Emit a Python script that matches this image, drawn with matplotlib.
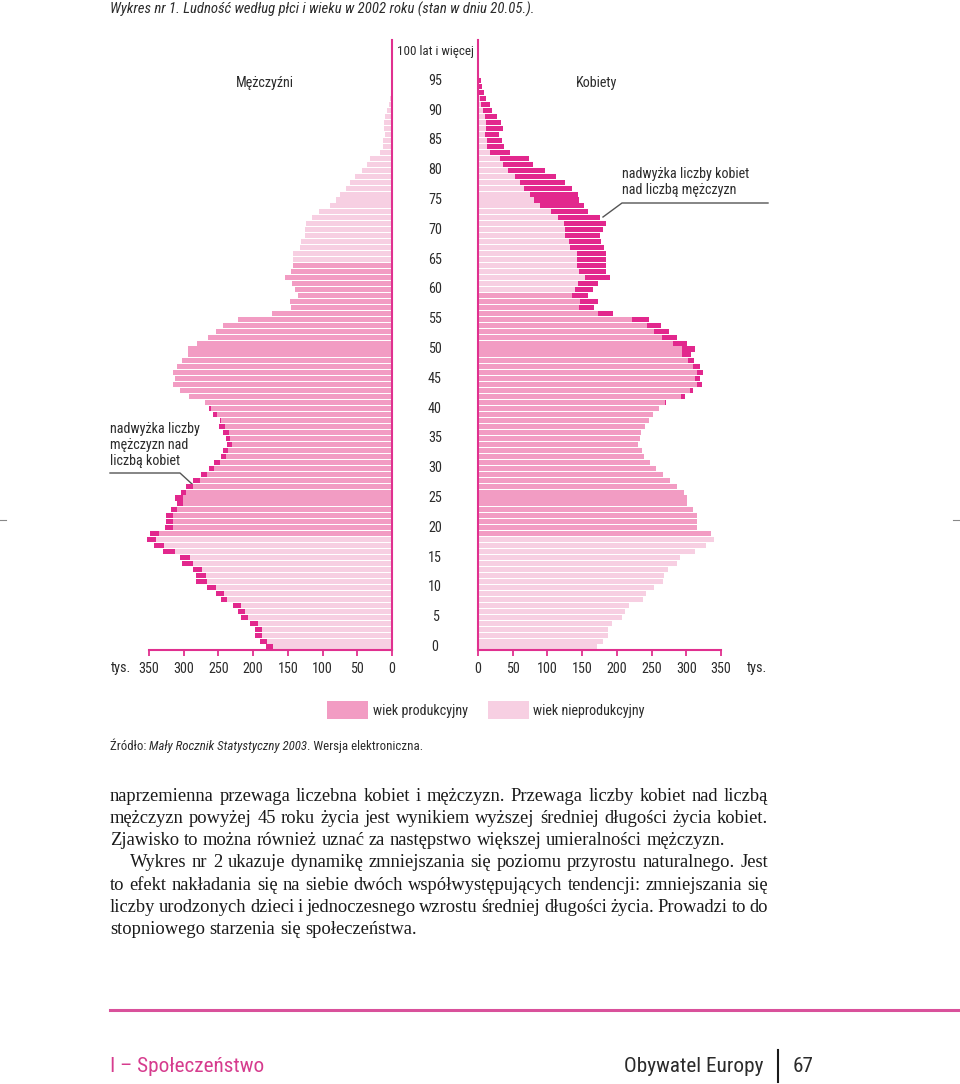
import matplotlib
matplotlib.use("Agg")
import matplotlib.pyplot as plt
from matplotlib import font_manager as fm
from matplotlib import transforms

# population by single year of age (thousands), 2002
ages = list(range(96))
men = [181, 190, 197, 197, 204, 217, 222, 229, 246, 253,
       267, 282, 282, 287, 302, 305, 330, 343, 353, 348,
       327, 325, 326, 319, 310, 312, 304, 297, 287, 275,
       264, 256, 247, 244, 237, 239, 243, 249, 248, 258,
       264, 270, 293, 306, 316, 313, 316, 310, 302, 294,
       294, 281, 265, 254, 243, 222, 173, 145, 147, 135,
       140, 144, 154, 146, 143, 143, 142, 133, 131, 126,
       126, 124, 115, 105, 90, 80, 75, 66, 61, 54,
       43, 36, 32, 17, 13, 13, 10, 12, 12, 10,
       7, 5, 3, 2, 1.5, 1]
women = [172, 180, 187, 187, 193, 207, 212, 218, 237, 242,
         254, 267, 268, 274, 286, 291, 313, 329, 340, 335,
         316, 315, 316, 309, 301, 301, 296, 287, 276, 266,
         257, 248, 239, 236, 230, 233, 235, 241, 246, 252,
         261, 271, 298, 309, 322, 320, 324, 320, 311, 307,
         313, 301, 287, 275, 264, 247, 194, 167, 173, 158,
         166, 173, 190, 184, 184, 185, 185, 182, 177, 176,
         180, 184, 176, 159, 153, 146, 144, 135, 126, 113,
         96, 79, 74, 46, 38, 35, 30, 36, 33, 27,
         20, 17, 11, 8, 6, 4]
work_start = 19
work_end_men = 64
work_end_women = 59
age_ticks = list(range(0, 100, 5))
x_ticks = list(range(0, 351, 50))

MID = "#F29CC3"
LIGHT = "#F7CFE2"
DARK = "#E2288D"
MAG = "#E0308F"
TXT = "#2b2b2b"


def pick_narrow():
    names = {f.name for f in fm.fontManager.ttflist}
    for n in ["Liberation Sans Narrow", "Roboto Condensed", "Noto Sans Condensed",
              "Open Sans Condensed", "DejaVu Sans Condensed"]:
        if n in names:
            return n, "normal"
    for fam in ["Noto Sans", "DejaVu Sans", "Open Sans", "Roboto"]:
        for f in fm.fontManager.ttflist:
            if f.name == fam and f.style == "normal" and str(f.stretch) in (
                    "condensed", "semi-condensed", "extra-condensed"):
                return fam, f.stretch
    return "Roboto" if "Roboto" in names else "DejaVu Sans", "normal"


NARROW, STRETCH = pick_narrow()
SERIF = "Liberation Serif"
plt.rcParams["font.family"] = NARROW
plt.rcParams["font.stretch"] = STRETCH

W, H = 960, 1084
fig = plt.figure(figsize=(W / 100, H / 100), dpi=100)

page = fig.add_axes([0, 0, 1, 1])
page.set_xlim(0, W)
page.set_ylim(H, 0)
page.axis("off")
renderer = fig.canvas.get_renderer()


def width_of(s, **kw):
    t = page.text(0, 0, s, **kw)
    w = t.get_window_extent(renderer=renderer).width
    t.remove()
    return w


def fit(s, target, **kw):
    return 10 * target / width_of(s, fontsize=10, **kw)


# font sizes matched to the widths of the printed labels
LBL = 1.06 * (fit("wiek nieprodukcyjny", 105) + fit("100 lat i więcej", 71)
              + fit("nadwyżka liczby kobiet", 132)) / 3
TOP_LBL = min(LBL, fit("100 lat i więcej", 76))
TITLE = fit("Wykres nr 1. Ludność według płci i wieku w 2002 roku (stan w dniu 20.05.).",
            422, style="italic")
FOOT = fit("Obywatel Europy", 139)

# pyramid geometry (pixels)
Y0, STEP = 647.0, 5.96
TOP, BOT = 40, 650
ylo = (Y0 - BOT) / STEP
yhi = (Y0 - TOP) / STEP

ax_l = fig.add_axes([149 / W, 1 - BOT / H, (392 - 149) / W, (BOT - TOP) / H])
ax_r = fig.add_axes([478 / W, 1 - BOT / H, (721 - 478) / W, (BOT - TOP) / H])

sides = [(ax_l, men, women, work_end_men), (ax_r, women, men, work_end_women)]
for ax, own, other, work_end in sides:
    base = [min(a, b) for a, b in zip(own, other)]
    extra = [max(a - b, 0) for a, b in zip(own, other)]
    cols = [MID if work_start <= a <= work_end else LIGHT for a in ages]
    b1 = ax.barh(ages, base, height=0.85, color=cols, linewidth=0)
    b2 = ax.barh(ages, extra, left=base, height=0.85, color=DARK, linewidth=0)
    for p in list(b1) + list(b2):
        p.set_clip_on(False)
    ax.set_ylim(ylo, yhi)
    ax.set_facecolor("none")
    ax.set_yticks([])
    ax.set_xticks(x_ticks)
    ax.tick_params(axis="x", direction="out", length=4, width=1.3, color=MAG,
                   labelsize=LBL, labelcolor=TXT, pad=4.5)
    ax.spines["top"].set_visible(False)
    ax.spines["bottom"].set_color(MAG)
    ax.spines["bottom"].set_linewidth(1.5)

ax_l.set_xlim(350, 0)
ax_l.spines["left"].set_visible(False)
ax_l.spines["right"].set_color(MAG)
ax_l.spines["right"].set_linewidth(1.5)
ax_r.set_xlim(0, 350)
ax_r.spines["right"].set_visible(False)
ax_r.spines["left"].set_color(MAG)
ax_r.spines["left"].set_linewidth(1.5)

# age labels between the halves
tr = transforms.blended_transform_factory(fig.transFigure, ax_l.transData)
for a in age_ticks:
    fig.text(435 / W, a, str(a), transform=tr, ha="center", va="center",
             fontsize=LBL, color=TXT)
fig.text(435 / W, 100, "100 lat i więcej", transform=tr, ha="center",
         va="center", fontsize=TOP_LBL, color=TXT)

page.text(121, 668, "tys.", ha="center", va="center", fontsize=LBL, color=TXT)
page.text(757, 668, "tys.", ha="center", va="center", fontsize=LBL, color=TXT)
page.text(265, 83, "Mężczyźni", ha="center", va="center", fontsize=LBL, color=TXT)
page.text(597, 83, "Kobiety", ha="center", va="center", fontsize=LBL, color=TXT)

# annotations
page.text(622, 182, "nadwyżka liczby kobiet\nnad liczbą mężczyzn", ha="left",
          va="center", fontsize=LBL, color=TXT, linespacing=1.15)
page.plot([768, 622, 603], [203, 203, 217], color="#555555", lw=1)
page.text(110, 445, "nadwyżka liczby\nmężczyzn nad\nliczbą kobiet", ha="left",
          va="center", fontsize=LBL, color=TXT, linespacing=1.15)
page.plot([110, 180, 192], [473, 473, 484], color="#555555", lw=1)

# title
page.text(110, 9, "Wykres nr 1. Ludność według płci i wieku w 2002 roku "
          "(stan w dniu 20.05.).", ha="left", va="center", fontsize=TITLE,
          style="italic", color=TXT)

# legend
page.add_patch(plt.Rectangle((327, 701), 41, 18, color=MID, lw=0))
page.text(373, 711, "wiek produkcyjny", ha="left", va="center", fontsize=LBL, color=TXT)
page.add_patch(plt.Rectangle((488, 701), 41, 18, color=LIGHT, lw=0))
page.text(533, 711, "wiek nieprodukcyjny", ha="left", va="center", fontsize=LBL, color=TXT)

# source line, mixed upright / italic
src = [("Źródło: ", "normal"), ("Mały Rocznik Statystyczny 2003", "italic"),
       (". Wersja elektroniczna.", "normal")]
natural = sum(width_of(p.replace(" ", "\u00a0"), fontsize=10, style=st) for p, st in src)
SRC = 10 * 312 / natural
x = 110
for part, st in src:
    kw = dict(fontsize=SRC, style=st, color=TXT)
    page.text(x, 750, part, ha="left", va="baseline", **kw)
    x += width_of(part.replace(" ", "\u00a0"), **kw)

# body text, justified
BODY = dict(fontsize=13.3, family=SERIF, color="#1a1a1a", stretch="normal")
lines = [
    ("naprzemienna przewaga liczebna kobiet i mężczyzn. Przewaga liczby kobiet nad liczbą", 110, True),
    ("mężczyzn powyżej 45 roku życia jest wynikiem wyższej średniej długości życia kobiet.", 110, True),
    ("Zjawisko to można również uznać za następstwo większej umieralności mężczyzn.", 110, False),
    ("Wykres nr 2 ukazuje dynamikę zmniejszania się poziomu przyrostu naturalnego. Jest", 130, True),
    ("to efekt nakładania się na siebie dwóch współwystępujących tendencji: zmniejszania się", 110, True),
    ("liczby urodzonych dzieci i jednoczesnego wzrostu średniej długości życia. Prowadzi to do", 110, True),
    ("stopniowego starzenia się społeczeństwa.", 110, False),
]
baselines = [801, 823, 845, 867, 890, 912, 934]
space = width_of("a\u00a0a", **BODY) - width_of("aa", **BODY)
for (line, x0, just), yb in zip(lines, baselines):
    words = line.split()
    widths = [width_of(w, **BODY) for w in words]
    gap = (768 - x0 - sum(widths)) / (len(words) - 1) if just else space
    x = x0
    for w, wd in zip(words, widths):
        page.text(x, yb, w, ha="left", va="baseline", **BODY)
        x += wd + gap

# footer
page.plot([110, 958], [1010, 1010], color="#D9519B", lw=2.2)
page.text(110, 1067, "I – Społeczeństwo", ha="left", va="center", fontsize=FOOT, color="#D63C8E")
page.text(764, 1067, "Obywatel Europy", ha="right", va="center", fontsize=FOOT, color=TXT)
page.plot([778, 778], [1050, 1082], color="#1a1a1a", lw=1.5)
page.text(793, 1067, "67", ha="left", va="center", fontsize=FOOT, color=TXT)

# crop marks
page.plot([0, 6], [520, 520], color="#888888", lw=0.8)
page.plot([953, 960], [520, 520], color="#888888", lw=0.8)

fig.savefig("out.png", dpi=100)
